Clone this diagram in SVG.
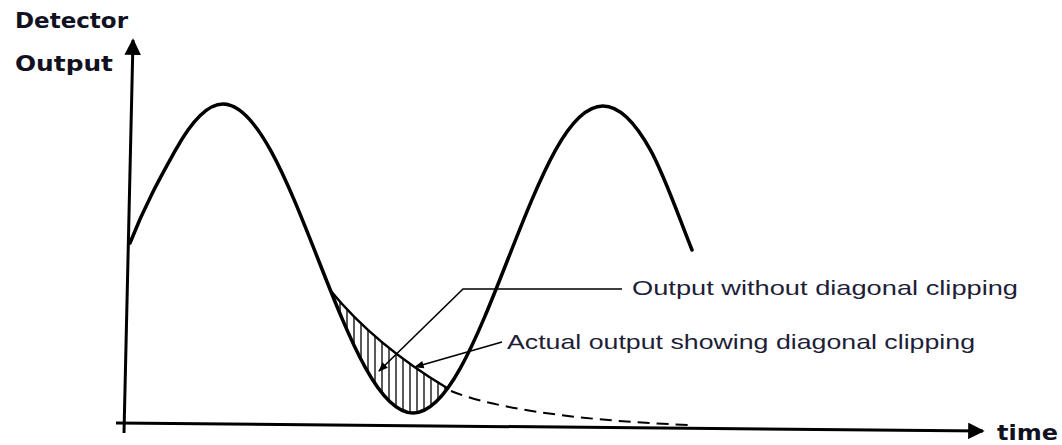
<svg xmlns="http://www.w3.org/2000/svg" width="1062" height="445" viewBox="0 0 1062 445">
  <style>
    .axis { stroke: #000; stroke-width: 3; fill: none; }
    .wave { stroke: #000; stroke-width: 3.5; fill: none; stroke-linejoin: round; stroke-linecap: round; }
    .clip { stroke: #000; stroke-width: 2.5; fill: none; }
    .dash { stroke: #000; stroke-width: 2; fill: none; stroke-dasharray: 12 7; }
    .hatch { stroke: #000; stroke-width: 1.3; }
    .leader { stroke: #000; stroke-width: 1.6; fill: none; }
    .axlabel { font-family: "DejaVu Sans", Verdana, sans-serif; font-weight: bold; font-size: 22px; fill: #111122; }
    .label { font-family: "Liberation Sans", Arial, sans-serif; font-size: 21px; fill: #1e1e38; }
  </style>
  <defs>
    <marker id="axhead" viewBox="0 0 10 10" refX="9" refY="5" markerWidth="5.5" markerHeight="5.5" orient="auto" markerUnits="strokeWidth">
      <path d="M0,0 L10,5 L0,10 Z" fill="#000"/>
    </marker>
    <marker id="lhead" viewBox="0 0 10 10" refX="9" refY="5" markerWidth="8" markerHeight="6" orient="auto" markerUnits="strokeWidth">
      <path d="M0,1 L10,5 L0,9 Z" fill="#000"/>
    </marker>
    <clipPath id="trough">
      <path d="M318,259 C333.83,299.3 349.67,339.4 365.5,367.9 C381.33,396.4 397.17,413 413,413 C428.83,413 444.67,396.4 460.5,367.9 C476.33,339.4 492.17,299.3 508,259 Z"/>
    </clipPath>
    <clipPath id="belowclip">
      <path d="M330,290 Q375,345 447,388 L447,430 L330,430 Z"/>
    </clipPath>
  </defs>

  <g id="axes">
    <line class="axis" x1="124" y1="433" x2="133" y2="40" marker-end="url(#axhead)"/>
    <line class="axis" x1="116" y1="423" x2="983" y2="431" marker-end="url(#axhead)"/>
  </g>

  <g id="axis-labels">
    <text class="axlabel" x="15" y="28" textLength="113" lengthAdjust="spacingAndGlyphs">Detector</text>
    <text class="axlabel" x="15" y="71" textLength="98" lengthAdjust="spacingAndGlyphs">Output</text>
    <text class="axlabel" x="997" y="440" textLength="61" lengthAdjust="spacingAndGlyphs">time</text>
  </g>

  <g id="hatching">
    <g clip-path="url(#trough)">
      <g clip-path="url(#belowclip)">
        <line class="hatch" x1="333" y1="280" x2="333" y2="420"/>
        <line class="hatch" x1="340" y1="280" x2="340" y2="420"/>
        <line class="hatch" x1="347" y1="280" x2="347" y2="420"/>
        <line class="hatch" x1="354" y1="280" x2="354" y2="420"/>
        <line class="hatch" x1="361" y1="280" x2="361" y2="420"/>
        <line class="hatch" x1="368" y1="280" x2="368" y2="420"/>
        <line class="hatch" x1="375" y1="280" x2="375" y2="420"/>
        <line class="hatch" x1="382" y1="280" x2="382" y2="420"/>
        <line class="hatch" x1="389" y1="280" x2="389" y2="420"/>
        <line class="hatch" x1="396" y1="280" x2="396" y2="420"/>
        <line class="hatch" x1="403" y1="280" x2="403" y2="420"/>
        <line class="hatch" x1="410" y1="280" x2="410" y2="420"/>
        <line class="hatch" x1="417" y1="280" x2="417" y2="420"/>
        <line class="hatch" x1="424" y1="280" x2="424" y2="420"/>
        <line class="hatch" x1="431" y1="280" x2="431" y2="420"/>
        <line class="hatch" x1="438" y1="280" x2="438" y2="420"/>
        <line class="hatch" x1="445" y1="280" x2="445" y2="420"/>
      </g>
    </g>
  </g>

  <g id="detector-output">
    <path class="wave" d="M130,243 C145.17,204.3 160.33,177.4 175.5,150.1 C191.33,121.6 207.17,104 223,104 C238.83,104 254.67,121.6 270.5,150.1 C286.33,178.6 302.17,218.7 318,259 C333.83,299.3 349.67,339.4 365.5,367.9 C381.33,396.4 397.17,413 413,413 C428.83,413 444.67,396.4 460.5,367.9 C476.33,339.4 492.17,299.3 508,259 C523.83,218.7 539.67,178.6 555.5,150.1 C571.33,121.6 587.17,106 603,106 C618.83,106 634.67,121.6 650.5,150.1 C664.33,175 678.17,215.4 692,250"/>
  </g>

  <g id="clipped-output">
    <path class="clip" d="M330,290 Q375,345 447,388"/>
    <path class="dash" d="M451,391 C485,405 560,420 690,425"/>
  </g>

  <g id="connectors">
    <polyline class="leader" points="622,289 463,289 379,371" marker-end="url(#lhead)"/>
    <line class="leader" x1="502" y1="342" x2="415" y2="367" marker-end="url(#lhead)"/>
  </g>

  <g id="label-without">
    <text class="label" x="632" y="295" textLength="386" lengthAdjust="spacingAndGlyphs">Output without diagonal clipping</text>
  </g>
  <g id="label-actual">
    <text class="label" x="507" y="349" textLength="468" lengthAdjust="spacingAndGlyphs">Actual output showing diagonal clipping</text>
  </g>
</svg>
